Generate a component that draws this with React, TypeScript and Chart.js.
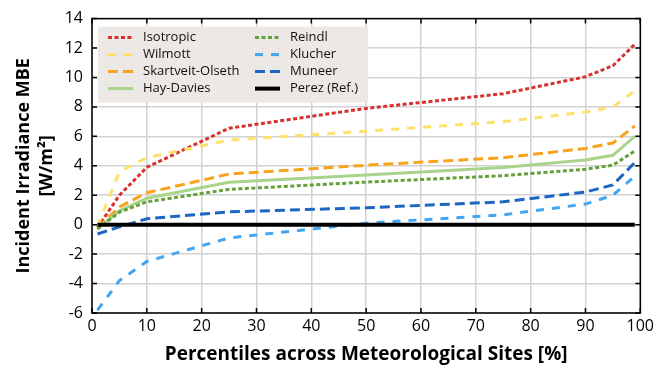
import React, { useEffect, useRef } from 'react';
import { Chart, registerables } from 'chart.js';

Chart.register(...registerables);

// ---- data ----
const percentiles = [1, 5, 10, 25, 50, 75, 90, 95, 99];
const isotropic = [-0.2, 2.0, 3.9, 6.55, 7.9, 8.9, 10.05, 10.8, 12.25];
const wilmott = [-0.1, 3.6, 4.55, 5.75, 6.35, 7.0, 7.65, 8.0, 9.1];
const skartveitOlseth = [-0.2, 1.2, 2.17, 3.44, 4.04, 4.55, 5.18, 5.55, 6.7];
const hayDavies = [-0.25, 0.95, 1.8, 2.88, 3.37, 3.89, 4.4, 4.71, 6.0];
const reindl = [-0.3, 0.85, 1.55, 2.4, 2.89, 3.33, 3.77, 4.04, 5.0];
const klucher = [-5.8, -3.8, -2.5, -0.9, 0.1, 0.67, 1.4, 2.0, 3.3];
const muneer = [-0.63, -0.15, 0.4, 0.87, 1.15, 1.55, 2.22, 2.7, 4.22];
const perez = [0, 0, 0, 0, 0, 0, 0, 0, 0];

const xTitle = 'Percentiles across Meteorological Sites [%]';
const yTitle1 = 'Incident Irradiance MBE';
const yTitle2 = '[W/m²]';

const FONT = "'Open Sans', 'Noto Sans', sans-serif";

type S = { label: string; data: number[]; color: string; dash: number[]; width: number };
const series: S[] = [
  { label: 'Isotropic', data: isotropic, color: '#d8302f', dash: [4, 2.5], width: 3 },
  { label: 'Wilmott', data: wilmott, color: '#fde16b', dash: [8, 8], width: 3 },
  { label: 'Skartveit-Olseth', data: skartveitOlseth, color: '#f8a31c', dash: [10, 5], width: 3 },
  { label: 'Hay-Davies', data: hayDavies, color: '#a8d58b', dash: [], width: 3 },
  { label: 'Reindl', data: reindl, color: '#66a03a', dash: [4, 2.5], width: 3 },
  { label: 'Klucher', data: klucher, color: '#42a6f3', dash: [8, 8], width: 3 },
  { label: 'Muneer', data: muneer, color: '#1d66c3', dash: [10, 5], width: 3 },
  { label: 'Perez (Ref.)', data: perez, color: '#000000', dash: [], width: 4 },
];

const decorPlugin = {
  id: 'decor',
  afterDatasetsDraw(chart: any) {
    const { ctx, chartArea } = chart;
    const { left, top } = chartArea;
    ctx.save();
    // legend box
    const bx = left + 6, by = top + 8, bw = 270, bh = 76;
    ctx.fillStyle = '#ebe8e5';
    ctx.fillRect(bx, by, bw, bh);
    ctx.font = `13px ${FONT}`;
    ctx.textBaseline = 'middle';
    ctx.textAlign = 'left';
    series.forEach((s, i) => {
      const col = Math.floor(i / 4);
      const row = i % 4;
      const sx = bx + 10 + col * 147;
      const sy = by + 11 + row * 17;
      ctx.beginPath();
      ctx.setLineDash(s.dash);
      ctx.strokeStyle = s.color;
      ctx.lineWidth = s.width;
      ctx.moveTo(sx, sy);
      ctx.lineTo(sx + 25, sy);
      ctx.stroke();
      ctx.setLineDash([]);
      ctx.fillStyle = '#111';
      ctx.fillText(s.label, sx + 35, sy);
    });
    ctx.restore();
  },
  afterDraw(chart: any) {
    const { ctx, chartArea, scales } = chart;
    const { left, right, top, bottom } = chartArea;
    const xs = scales.x, ys = scales.y;
    ctx.save();
    ctx.strokeStyle = '#000';
    ctx.lineWidth = 1.5;
    ctx.strokeRect(left, top, right - left, bottom - top);
    ctx.beginPath();
    const tl = 5;
    xs.ticks.forEach((t: any) => {
      const px = xs.getPixelForValue(t.value);
      ctx.moveTo(px, bottom); ctx.lineTo(px, bottom - tl);
      ctx.moveTo(px, top); ctx.lineTo(px, top + tl);
    });
    ys.ticks.forEach((t: any) => {
      const py = ys.getPixelForValue(t.value);
      ctx.moveTo(left, py); ctx.lineTo(left + tl, py);
      ctx.moveTo(right, py); ctx.lineTo(right - tl, py);
    });
    ctx.stroke();
    // titles
    ctx.fillStyle = '#000';
    ctx.font = `bold 19px ${FONT}`;
    ctx.textAlign = 'center';
    ctx.textBaseline = 'middle';
    ctx.fillText(xTitle, (left + right) / 2, 355);
    const cy = (top + bottom) / 2;
    ctx.font = `bold 18px ${FONT}`;
    ctx.save();
    ctx.translate(24, cy);
    ctx.rotate(-Math.PI / 2);
    ctx.fillText(yTitle1, 0, 0);
    ctx.restore();
    ctx.save();
    ctx.translate(47, cy);
    ctx.rotate(-Math.PI / 2);
    ctx.fillText(yTitle2, 0, 0);
    ctx.restore();
    ctx.restore();
  },
};

export default function App() {
  const ref = useRef<HTMLCanvasElement | null>(null);
  useEffect(() => {
    if (!ref.current) return;
    const chart = new Chart(ref.current, {
      type: 'line',
      data: {
        datasets: [...series].reverse().map((s) => ({
          label: s.label,
          data: percentiles.map((p, i) => ({ x: p, y: s.data[i] })),
          borderColor: s.color,
          borderDash: s.dash,
          borderWidth: s.width,
          pointRadius: 0,
          fill: false,
          tension: 0,
        })),
      },
      options: {
        animation: false,
        responsive: true,
        maintainAspectRatio: false,
        layout: { padding: { top: 13, right: 13, left: 0, bottom: 0 } },
        plugins: { legend: { display: false }, tooltip: { enabled: false } },
        scales: {
          x: {
            type: 'linear',
            min: 0,
            max: 100,
            ticks: { stepSize: 10, color: '#000', font: { family: FONT, size: 16 }, padding: 4, maxRotation: 0 },
            grid: { color: '#d2d2d2', lineWidth: 1.5, drawTicks: false },
            border: { display: false },
            afterFit: (s: any) => { s.height = 61; },
          },
          y: {
            type: 'linear',
            min: -6,
            max: 14,
            ticks: { stepSize: 2, color: '#000', font: { family: FONT, size: 16 }, padding: 9 },
            grid: { color: '#d2d2d2', lineWidth: 1.5, drawTicks: false },
            border: { display: false },
            afterFit: (s: any) => { s.width = 92; },
          },
        },
      },
      plugins: [decorPlugin],
    });
    return () => chart.destroy();
  }, []);
  return (
    <div style={{ position: 'fixed', left: 0, top: 0, width: 658, height: 374, background: '#fff' }}>
      <canvas ref={ref} />
    </div>
  );
}
